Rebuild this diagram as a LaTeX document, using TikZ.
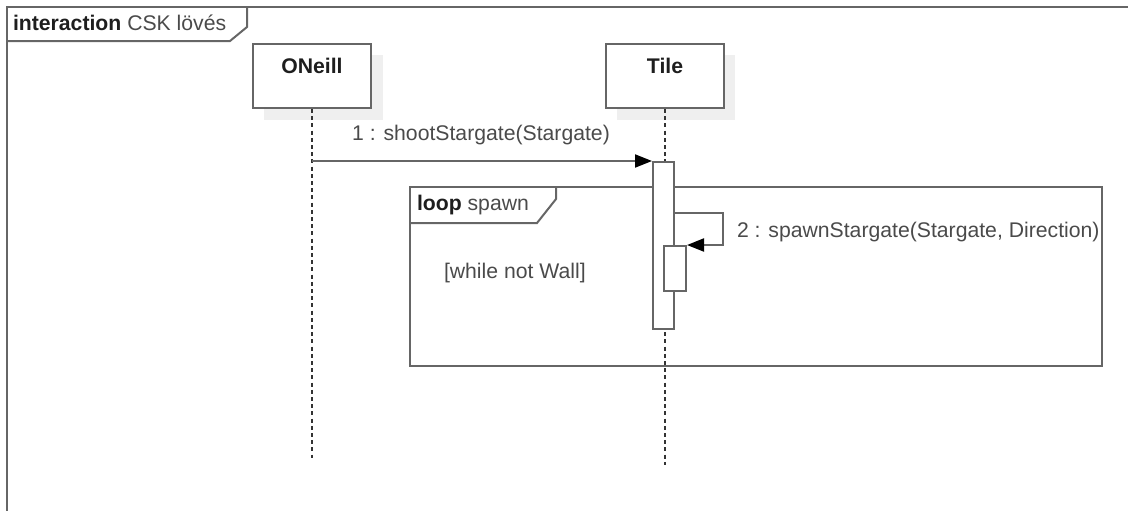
\documentclass[tikz,border=0pt]{standalone}
\usepackage{fontspec}
\setmainfont{Liberation Sans}
\usetikzlibrary{arrows.meta,positioning}

\definecolor{umlline}{HTML}{666666}
\definecolor{umltext}{HTML}{4A4A4A}
\definecolor{umlbold}{HTML}{1E1E1E}
\definecolor{umlshadow}{HTML}{EFEFEF}

\begin{document}
\begin{tikzpicture}[x=0.5pt,y=-0.5pt,color=umlline,line width=1pt,
    every node/.style={font=\fontsize{10.6}{12}\selectfont,text=umltext,inner sep=0pt},
    part/.style={draw=umlline,fill=white,minimum width=59pt,minimum height=32pt},
    partlbl/.style={font=\fontsize{10.6}{12}\selectfont\bfseries,text=umlbold},
    life/.style={draw=black!80,line width=0.7pt,dash pattern=on 2pt off 1.6pt},
    act/.style={draw=umlline,fill=white},
    msg/.style={-{Triangle[length=8.5pt,width=6.5pt,color=black]}}]
    \useasboundingbox (0,0) rectangle (1128,510);
    % outer interaction frame
    \draw (7,520) |- (1140,7);
    \draw (7,41) -- (230,41) -- (247,27) -- (247,7);
    \node[anchor=west] (frameLbl) at (12,23) {\textcolor{umlbold}{\bfseries interaction} CSK lövés};
    % participants
    \fill[umlshadow] (264,55) rectangle (383,120);
    \fill[umlshadow] (617,55) rectangle (735,120);
    \node[part] (oneill) at (312,76) {};
    \node[part] (tile) at (665,76) {};
    \node[partlbl] (oneillLbl) at (312,66) {ONeill};
    \node[partlbl] (tileLbl) at (665,66) {Tile};
    % lifelines
    \coordinate (oneillEnd) at (312,458);
    \coordinate (tileEnd) at (665,465);
    \draw[life] (oneill.south) -- (oneillEnd);
    \draw[life] (tile.south) -- (tileEnd);
    % loop fragment
    \draw (410,187) rectangle (1102,366);
    \draw (410,223) -- (537,223) -- (556,199) -- (556,187);
    \node[anchor=west] (loopLbl) at (416,205) {\textcolor{umlbold}{\bfseries loop} spawn};
    \node[anchor=west] (guard) at (443,273) {[while not Wall]};
    % activations
    \node[act,minimum width=10.5pt,minimum height=83.5pt] (act1) at (663.5,245.5) {};
    \node[act,minimum width=11pt,minimum height=22.5pt] (act2) at (675,268.5) {};
    % messages
    \draw[msg] (oneill.south |- act1.north west) -- (act1.north west);
    \node (msg1Lbl) at (481,135) {1 : shootStargate(Stargate)};
    \coordinate (selfTop) at (723,213);
    \draw[msg] (act1.east |- selfTop) -- (selfTop) |- (act2.north east);
    \node[anchor=west] (msg2Lbl) at (736,232) {2 : spawnStargate(Stargate, Direction)};
\end{tikzpicture}
\end{document}
